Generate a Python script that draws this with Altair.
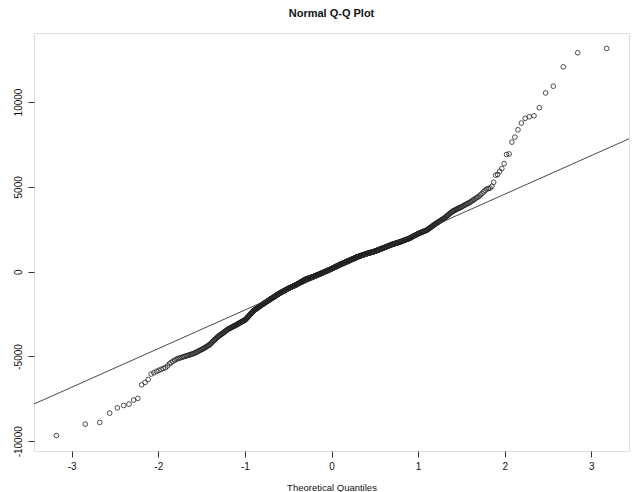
import altair as alt
import numpy as np
import pandas as pd

# Sorted sample values (lower tail -> middle -> upper tail)
lower_tail = [-9660, -8990, -8890, -8340, -8030, -7890, -7810, -7570, -7470, -6670,
              -6530, -6360, -6040, -5960, -5880, -5820, -5760, -5700, -5660, -5560,
              -5430, -5360, -5280, -5220, -5170, -5130, -5100, -5070, -5040, -5010,
              -4990, -4960, -4940, -4920, -4890, -4870, -4845, -4820, -4790, -4760,
              -4730, -4690, -4660, -4630, -4600, -4570]
lower_mid = [-4540, -4510, -4470, -4440, -4400, -4370, -4340, -4300, -4250,
             -4200, -4150, -4100, -4060, -4010, -3970, -3930, -3880, -3840, -3800,
             -3770, -3740, -3710, -3680, -3650, -3620, -3590, -3560, -3520, -3490, -3460, -3430, -3400,
             -3380, -3360, -3340, -3320, -3300, -3280, -3260, -3240, -3220, -3200, -3185, -3170, -3150,
             -3130, -3110, -3090, -3070, -3050, -3030, -3010, -2990, -2970, -2950, -2930, -2920, -2900, -2890, -2870, -2850,
             -2820, -2790, -2760, -2720, -2690, -2660, -2620, -2590, -2560, -2530, -2490, -2460, -2430, -2400, -2370, -2330, -2300,
             -2280, -2260, -2240, -2220, -2200, -2180, -2160, -2140, -2120, -2100, -2085, -2065, -2045, -2025, -2005, -1990, -1970, -1950,
             -1935, -1915, -1900, -1880, -1865, -1850, -1830, -1815, -1800, -1780, -1765, -1750, -1730, -1715, -1700, -1680, -1665, -1650, -1630, -1615, -1600,
             -1585, -1570, -1555, -1540, -1525, -1510, -1495, -1480, -1465, -1450, -1435, -1420, -1400, -1385, -1370, -1355, -1340, -1325, -1310, -1295, -1280,
             -1268, -1255, -1243, -1231, -1219, -1207, -1195, -1183, -1171, -1158, -1146, -1134, -1122, -1110, -1098, -1085, -1073, -1061, -1049, -1037, -1024, -1012, -1000]
center = [-990, -980, -970, -960, -950, -940, -930, -920, -910, -900, -890, -880, -870, -860, -850, -840, -830, -820, -810, -800, -790, -780, -770, -760,
          -748, -736, -724, -712, -700, -688, -676, -664, -652, -640, -628, -616, -604, -592, -580, -568, -556, -544, -532, -520, -508, -496, -484, -472, -460,
          -453, -446, -439, -432, -425, -419, -412, -405, -398, -391, -384, -377, -370, -363, -356, -349, -342, -336, -329, -322, -315, -308, -301, -294, -287, -280,
          -272, -264, -256, -247, -239, -231, -223, -215, -207, -198, -190, -182, -174, -166, -158, -150, -141, -133, -125, -117, -109, -101, -93, -84, -76, -68, -60,
          -52, -43, -35, -26, -18, -9, -1, 8, 16, 25, 33, 42, 50, 59, 67, 76, 84, 93, 101, 109, 118, 126, 135, 143, 152, 160,
          170, 179, 189, 199, 208, 218, 227, 237, 247, 256, 266, 276, 285, 295, 304, 314, 324, 333, 343, 353, 362, 372, 381, 391, 401, 410, 420,
          429, 437, 446, 454, 463, 471, 480, 488, 497, 505, 514, 522, 531, 539, 548, 556, 565, 573, 582, 590, 599, 607, 616, 624, 633, 641, 650,
          659, 668, 676, 685, 694, 703, 712, 720, 729, 738, 747, 756, 764, 773, 782, 791, 800, 808, 817, 826, 835, 844, 852, 861, 870]
upper_mid = [877, 884, 891, 898, 905, 912, 918, 925, 932, 939, 946, 953, 960, 967, 974, 981, 988, 995, 1002, 1008, 1015, 1022, 1029, 1036, 1043, 1050,
             1056, 1063, 1069, 1075, 1081, 1088, 1094, 1100, 1106, 1113, 1119, 1125, 1131, 1138, 1144, 1150, 1156, 1163, 1169, 1175, 1181, 1188, 1194, 1200,
             1209, 1217, 1226, 1235, 1243, 1252, 1261, 1270, 1278, 1287, 1296, 1304, 1313, 1322, 1330, 1339, 1348, 1357, 1365, 1374, 1383, 1391, 1400,
             1410, 1419, 1429, 1438, 1448, 1457, 1467, 1476, 1486, 1495, 1505, 1514, 1524, 1533, 1543, 1552, 1562, 1571, 1581, 1590, 1600,
             1608, 1616, 1624, 1632, 1640, 1648, 1656, 1664, 1672, 1680, 1688, 1696, 1704, 1712, 1720, 1728, 1736, 1744, 1752, 1760,
             1771, 1781, 1792, 1802, 1813, 1823, 1834, 1844, 1855, 1865, 1876, 1886, 1897, 1907, 1918, 1928, 1939, 1949, 1960,
             1976, 1992, 2008, 2024, 2039, 2055, 2071, 2087, 2103, 2119, 2135, 2151, 2166, 2182, 2198, 2214, 2230,
             2244, 2258, 2271, 2285, 2299, 2313, 2326, 2340, 2354, 2368, 2381, 2395, 2409, 2423, 2436, 2450,
             2477, 2504, 2531, 2558, 2585, 2612, 2638, 2665, 2692, 2719, 2746, 2773, 2800,
             2827, 2854, 2881, 2908, 2935, 2962, 2988, 3015, 3042, 3069, 3096, 3123, 3150,
             3190, 3230, 3270, 3310, 3350, 3390, 3430, 3470, 3510, 3550,
             3577, 3604, 3631, 3658, 3685, 3712, 3739, 3766, 3793, 3820,
             3855, 3890, 3925, 3960, 3995, 4030, 4065, 4100,
             4150, 4200, 4250, 4300, 4350, 4400, 4450,
             4534, 4618, 4702, 4786, 4870]
upper_tail = [4900, 4929, 5030, 5266, 5680, 5722, 5917, 6077, 6373, 6905, 6941, 7633, 7929,
              8361, 8757, 9035, 9130, 9188, 9662, 10532, 10929, 12071, 12899, 13154]

sample = lower_tail + lower_mid + center + upper_mid + upper_tail
x_ticks = [-3, -2, -1, 0, 1, 2, 3]
y_ticks = [-10000, -5000, 0, 5000, 10000]

df = pd.DataFrame({"sample": sample})

# R-style axis extension (4% on each side)
x_lim = 3.18
x_dom = [-x_lim * 1.08, x_lim * 1.08]
ymin, ymax = min(sample), max(sample)
ext = 0.04 * (ymax - ymin)
y_dom = [ymin - ext, ymax + ext]

# qqline through the quartiles
q1, q3 = np.percentile(sample, [25, 75])
z3 = 0.6744897501960817
slope = (q3 - q1) / (2 * z3)
intercept = q1 + slope * z3
line_df = pd.DataFrame({"x": x_dom, "y": [intercept + slope * v for v in x_dom]})

FONT = "Liberation Sans"

xscale = alt.Scale(domain=x_dom, nice=False, zero=False)
yscale = alt.Scale(domain=y_dom, nice=False, zero=False)

xaxis = alt.Axis(values=x_ticks, title="Theoretical Quantiles", grid=False, domain=False,
                 labelExpr="'' + datum.value",
                 tickSize=6, tickColor="#333", labelFont=FONT, labelFontSize=10, labelColor="#111",
                 labelPadding=4, titleFont=FONT, titleFontSize=9.5, titleFontWeight="normal",
                 titleColor="#111", titlePadding=11)
yaxis = alt.Axis(values=y_ticks, title=None, grid=False, domain=False, tickSize=6,
                 labelExpr="'' + datum.value",
                 tickColor="#333", labelFont=FONT, labelFontSize=10, labelColor="#111",
                 labelAngle=270, labelAlign="center", labelBaseline="bottom", labelPadding=5)

points = alt.Chart(df).transform_window(
    rank="row_number()", sort=[alt.SortField("sample")]
).transform_joinaggregate(
    n="count()"
).transform_calculate(
    theo="quantileNormal((datum.rank - 0.5) / datum.n)"
).mark_point(shape="circle", filled=False, size=22, strokeWidth=0.8, color="#222", opacity=1).encode(
    x=alt.X("theo:Q", scale=xscale, axis=xaxis),
    y=alt.Y("sample:Q", scale=yscale, axis=yaxis),
)

line = alt.Chart(line_df).mark_line(color="#333", strokeWidth=0.9, clip=True).encode(
    x=alt.X("x:Q", scale=xscale),
    y=alt.Y("y:Q", scale=yscale),
)

chart = alt.layer(points, line).properties(
    width=595, height=418,
    title=alt.TitleParams("Normal Q-Q Plot", font=FONT, fontSize=11, fontWeight="bold",
                          color="#111", offset=14, anchor="middle"),
    autosize=alt.AutoSizeParams(type="none"),
    padding={"left": 34, "top": 33, "right": 11, "bottom": 41},
).configure_view(stroke="#444", strokeWidth=1).configure(background="white")

chart.save("out.html", embed_options={"renderer": "svg", "actions": False})
